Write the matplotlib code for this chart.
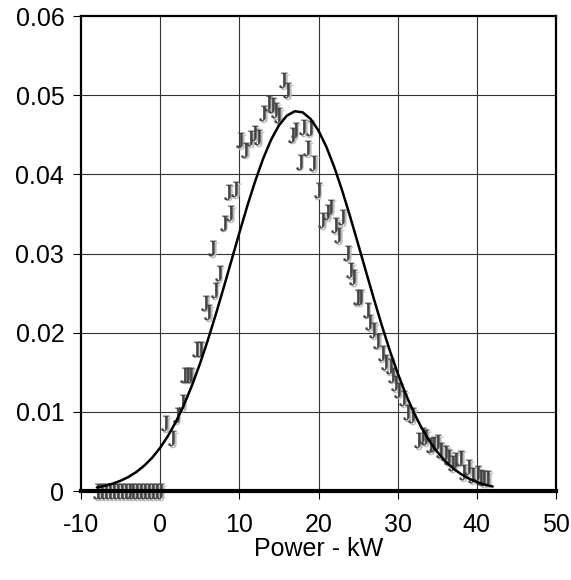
import matplotlib.pyplot as plt
import matplotlib.transforms as mtransforms
from matplotlib.ticker import FuncFormatter

plt.rcParams['font.family'] = 'Liberation Sans'
plt.rcParams['mathtext.fontset'] = 'stix'
plt.rcParams['axes.unicode_minus'] = False

# measured points (J markers)
pts_x = [-8, -7.5, -7, -6.5, -6, -5.5, -5, -4.5, -4, -3.5, -3, -2.5, -2, -1.5, -1, -0.5, 0,
         0.6, 1.5, 2.1, 2.8, 3.0, 3.4, 3.8, 4.5, 5.0, 5.7, 6.1, 6.6, 6.9, 7.4,
         8.0, 8.6, 8.8, 9.5, 10.1, 10.7, 11.4, 11.9, 12.4, 13.0, 13.6, 14.1, 14.5, 14.9,
         15.5, 16.0, 16.7, 17.0, 17.6, 18.1, 18.6, 18.9, 19.3, 19.9, 20.5, 21.1, 21.5,
         22.1, 22.5, 23.0, 23.6, 24.0, 24.4, 24.8, 25.2, 26.1, 26.4, 26.9, 27.4, 28.0,
         28.4, 29.0, 29.3, 29.7, 30.1, 30.7, 31.2, 31.8, 32.6, 33.1, 33.5, 34.1, 34.5,
         35.0, 35.4, 36.0, 36.4, 36.9, 37.2, 37.9, 38.3, 38.9, 39.4, 40.0, 40.4, 40.8, 41.3]
pts_y = [0] * 17 + [
         0.0086, 0.0067, 0.0096, 0.0112, 0.0147, 0.0147, 0.0147, 0.0180, 0.0180, 0.0238, 0.0226,
         0.0307, 0.0254, 0.0275,
         0.0339, 0.0378, 0.0351, 0.0381, 0.0443, 0.0431, 0.0446, 0.0452, 0.0447, 0.0477,
         0.0490, 0.0488, 0.0481, 0.0475, 0.0519, 0.0506, 0.0450, 0.0456, 0.0416, 0.0460,
         0.0433, 0.0458, 0.0414, 0.0380, 0.0342, 0.0352, 0.0359, 0.0336, 0.0323, 0.0346,
         0.0301, 0.0279, 0.0270, 0.0245, 0.0245, 0.0229, 0.0213, 0.0203, 0.0190, 0.0174,
         0.0163, 0.0158, 0.0147, 0.0136, 0.0128, 0.0117, 0.0100, 0.0096, 0.0064, 0.0071,
         0.0068, 0.0058, 0.0060, 0.0062, 0.0052, 0.0048, 0.0043, 0.0035, 0.0039, 0.0042,
         0.0024, 0.0030, 0.0020, 0.0023, 0.0018, 0.0016, 0.0016]

# fitted curve
fit_x = list(range(-8, 43))
fit_y = [0.00046, 0.00066, 0.00093, 0.00130, 0.00178, 0.00241, 0.00322, 0.00422,
         0.00547, 0.00698, 0.00878, 0.01088, 0.01330, 0.01601, 0.01900, 0.02222,
         0.02562, 0.02911, 0.03260, 0.03599, 0.03914, 0.04197, 0.04435, 0.04619,
         0.04741, 0.04797, 0.04783, 0.04700, 0.04553, 0.04346, 0.04089, 0.03792,
         0.03465, 0.03121, 0.02771, 0.02425, 0.02091, 0.01777, 0.01489, 0.01229,
         0.01000, 0.00802, 0.00634, 0.00494, 0.00379, 0.00287, 0.00214, 0.00157,
         0.00114, 0.00082, 0.00057]

xticks = [-10, 0, 10, 20, 30, 40, 50]
yticks = [0, 0.01, 0.02, 0.03, 0.04, 0.05, 0.06]

fig = plt.figure(figsize=(5.71, 5.80), dpi=100)
ax = fig.add_axes([0.1419, 0.1534, 0.8318, 0.819])

for v in xticks[1:-1]:
    ax.axvline(v, color='#333333', lw=0.8, zorder=1)
for v in yticks[1:-1]:
    ax.axhline(v, color='#333333', lw=0.8, zorder=1)

# J markers with a light shadow
shadow = mtransforms.offset_copy(ax.transData, fig=fig, x=1.2, y=-1.2, units='points')
ax.plot(pts_x, pts_y, ls='none', marker=r'$\mathrm{J}$', markersize=11,
        color='#bbbbbb', mew=0.2, transform=shadow, zorder=2, clip_on=False)
ax.plot(pts_x, pts_y, ls='none', marker=r'$\mathrm{J}$', markersize=11,
        color='#444444', mew=0.2, zorder=3, clip_on=False)

ax.plot(fit_x, fit_y, color='black', lw=1.8, zorder=4, solid_capstyle='round')

ax.set_xlim(-10, 50)
ax.set_ylim(0, 0.06)
ax.set_xticks(xticks)
ax.set_yticks(yticks)
ax.yaxis.set_major_formatter(FuncFormatter(lambda v, p: '0' if v == 0 else f'{v:.2f}'))
ax.tick_params(direction='out', length=6, width=0.8, labelsize=18)
ax.tick_params(axis='x', pad=10)
ax.tick_params(axis='y', pad=6)

for s in ['left', 'top', 'right']:
    ax.spines[s].set_linewidth(1.6)
ax.spines['bottom'].set_linewidth(3)
ax.spines['bottom'].set_zorder(5)

ax.set_xlabel('Power - kW', fontsize=18, labelpad=0)

plt.savefig('out.png', dpi=100)
